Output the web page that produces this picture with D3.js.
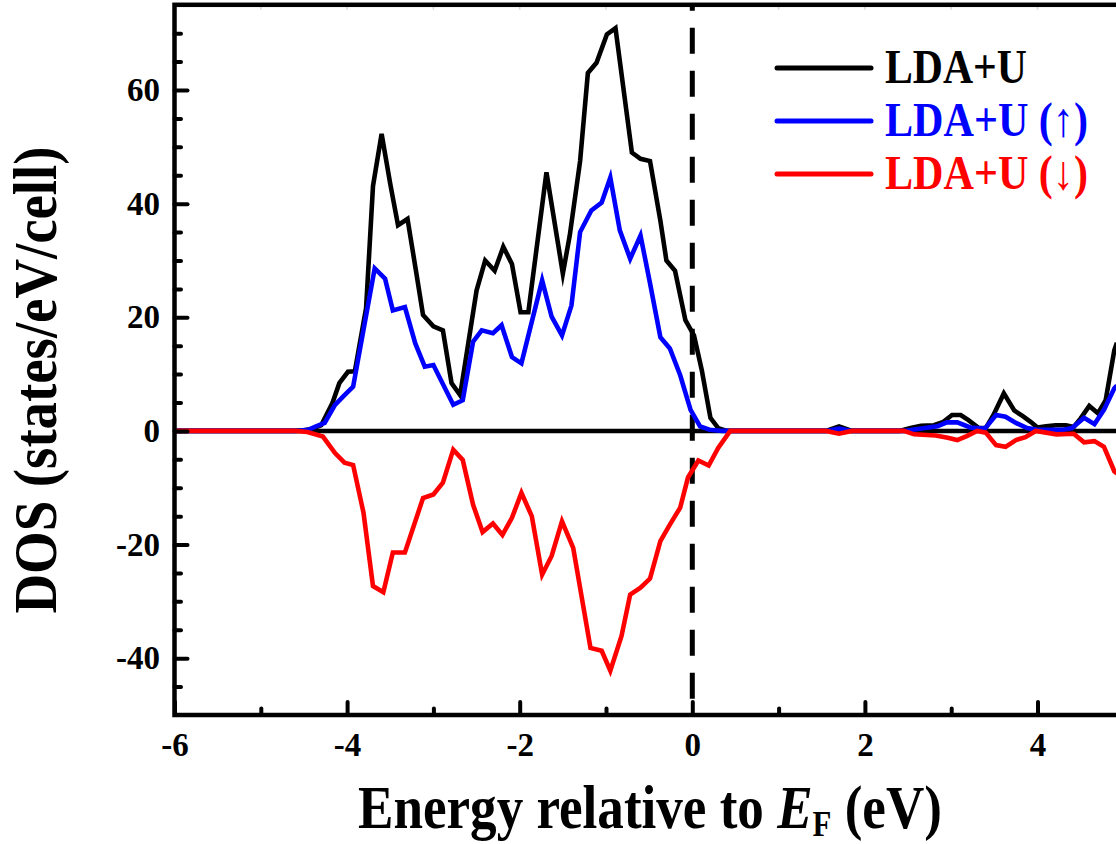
<!DOCTYPE html>
<html><head><meta charset="utf-8">
<script src="https://cdn.jsdelivr.net/npm/d3@7"></script>
<style>body{margin:0;background:#fff} svg{display:block}</style>
</head><body>
<svg id="c" width="1116" height="844"></svg>
<script>
// ---- data ----
const energyTotal = [-6.0,-4.6,-4.5,-4.4,-4.3,-4.17,-4.09,-3.99,-3.91,-3.78,-3.70,-3.60,-3.50,-3.41,-3.30,-3.20,-3.12,-3.00,-2.89,-2.79,-2.69,-2.50,-2.40,-2.29,-2.19,-2.09,-1.99,-1.90,-1.69,-1.50,-1.42,-1.30,-1.21,-1.11,-0.99,-0.89,-0.70,-0.60,-0.49,-0.37,-0.30,-0.20,-0.08,0.02,0.11,0.21,0.30,0.40,1.55,1.70,1.85,2.40,2.53,2.65,2.80,2.91,3.01,3.11,3.20,3.32,3.40,3.49,3.61,3.73,3.83,3.92,4.00,4.10,4.21,4.33,4.42,4.50,4.60,4.70,4.79,4.89,4.92];
const dosTotal    = [0,0,0.1,0.4,1.0,4.9,8.4,10.4,10.5,21.6,43.1,52.3,43.5,36.2,37.3,28.0,20.4,18.4,17.7,8.4,6.3,24.7,30.0,28.2,32.4,29.4,20.9,20.9,45.5,27.7,34.4,47.5,63.0,64.8,69.8,70.9,49.0,47.9,47.5,37.0,30.0,28.2,19.5,16.8,10.7,2.3,0.5,0,0,0.8,0,0,0.5,0.9,1.0,1.6,2.8,2.8,1.9,0.5,0.5,2.8,6.6,3.6,2.6,1.6,0.6,0.8,1.0,1.0,0.7,2.2,4.4,3.1,5.4,14.2,15.5];

const energyUp = [-6.0,-4.6,-4.45,-4.36,-4.26,-4.14,-4.05,-3.93,-3.68,-3.56,-3.47,-3.33,-3.21,-3.10,-3.00,-2.77,-2.66,-2.54,-2.44,-2.31,-2.21,-2.09,-1.98,-1.74,-1.63,-1.51,-1.40,-1.30,-1.17,-1.05,-0.95,-0.84,-0.72,-0.60,-0.49,-0.37,-0.26,-0.14,-0.02,0.09,0.20,0.35,1.55,1.70,1.85,2.45,2.55,2.84,2.95,3.07,3.22,3.39,3.52,3.63,3.75,3.88,4.00,4.30,4.40,4.54,4.66,4.77,4.89,4.92];
const dosUp    = [0,0,0.2,0.8,1.4,4.6,6.0,7.8,28.6,26.8,21.2,21.8,15.4,11.3,11.6,4.6,5.4,15.7,17.7,17.2,18.6,13.0,11.9,26.5,20.1,16.8,22.1,35.0,38.8,40.2,44.6,35.3,30.3,34.4,26.0,16.5,14.5,9.8,3.7,0.8,0.2,0,0,0.4,0,0,0.2,0.8,1.5,1.5,0.6,0.4,2.8,2.5,1.4,0.5,0.2,0.2,0.5,2.3,1.2,3.7,7.5,8.0];

const energyDown = [-6.0,-4.6,-4.46,-4.28,-4.14,-4.03,-3.93,-3.81,-3.70,-3.58,-3.47,-3.33,-3.12,-3.00,-2.89,-2.77,-2.66,-2.54,-2.43,-2.31,-2.20,-2.09,-1.98,-1.86,-1.74,-1.63,-1.51,-1.38,-1.18,-1.05,-0.95,-0.82,-0.72,-0.60,-0.49,-0.37,-0.26,-0.14,-0.05,0.07,0.19,0.30,0.44,1.55,1.70,1.85,2.45,2.57,2.82,2.96,3.07,3.18,3.30,3.40,3.52,3.63,3.75,3.86,3.98,4.10,4.22,4.42,4.54,4.66,4.77,4.89,4.92];
const dosDown    = [0,0,-0.2,-1.0,-3.9,-5.6,-6.0,-14.4,-27.3,-28.4,-21.4,-21.4,-11.8,-11.2,-9.1,-3.3,-5.1,-13.0,-17.8,-16.3,-18.3,-15.3,-10.9,-15.0,-25.3,-22.0,-15.9,-20.6,-38.2,-38.7,-42.2,-36.1,-28.8,-27.6,-26.0,-19.4,-16.5,-13.5,-8.2,-5.2,-6.1,-3.0,0,0,-0.5,0,0,-0.6,-0.8,-1.2,-1.6,-0.9,0,-0.3,-2.5,-2.8,-1.6,-1.1,0,-0.3,-0.6,-0.5,-2.0,-1.8,-2.8,-7.1,-7.5];

const xMajorTicks = [-6,-4,-2,0,2,4];
const xMinorTicks = [-5,-3,-1,1,3];
const yMajorTicks = [-40,-20,0,20,40,60];
const yMinorTicks = [-45,-35,-30,-25,-15,-10,-5,5,10,15,25,30,35,45,50,55,65,70];
const topFaintTicks = [-5,-4,-3,-2,-1,1,2,3,4];
const legendLabels = ["LDA+U","LDA+U (\u2191)","LDA+U (\u2193)"];
const seriesColors = ["#000000","#0000ff","#ff0000"];
const xTitle = "Energy relative to ";
const yTitle = "DOS (states/eV/cell)";

// ---- drawing ----
const FONT = "'Liberation Serif','Times New Roman',Times,serif";
const svg = d3.select("#c");
const x = d3.scaleLinear().domain([-6,6]).range([174.5, 174.5 + 12*86.3]);
const y = d3.scaleLinear().domain([-50,75]).range([715, 4.8]);

svg.append("defs").append("clipPath").attr("id","plot")
  .append("rect").attr("x",x(-6)).attr("y",y(75)).attr("width",x(6)-x(-6)).attr("height",y(-50)-y(75));

// faint top ticks
svg.append("g").selectAll("line").data(topFaintTicks).join("line")
  .attr("x1",d=>x(d)).attr("x2",d=>x(d)).attr("y1",y(75)+2).attr("y2",y(75)+5)
  .attr("stroke","#d8d8d8").attr("stroke-width",1.5);

const plot = svg.append("g").attr("clip-path","url(#plot)");

// zero line
plot.append("line").attr("x1",x(-6)).attr("x2",x(6)).attr("y1",y(0)).attr("y2",y(0))
  .attr("stroke","#000").attr("stroke-width",4.5);

// Fermi level dashed line
plot.append("line").attr("x1",x(0)).attr("x2",x(0)).attr("y1",y(75)).attr("y2",y(-50))
  .attr("stroke","#000").attr("stroke-width",5).attr("stroke-dasharray","26,17").attr("stroke-dashoffset",20);

const line = d3.line().x(d=>x(d[0])).y(d=>y(d[1]));
const series = [
  d3.zip(energyTotal,dosTotal),
  d3.zip(energyUp,dosUp),
  d3.zip(energyDown,dosDown)
];
series.forEach((s,i)=>{
  plot.append("path").datum(s).attr("d",line).attr("fill","none")
    .attr("stroke",seriesColors[i]).attr("stroke-width",4.6).attr("stroke-linejoin","miter").attr("stroke-miterlimit",6);
});

// frame
svg.append("rect").attr("x",x(-6)).attr("y",y(75)).attr("width",x(6)-x(-6)).attr("height",y(-50)-y(75))
  .attr("fill","none").attr("stroke","#000").attr("stroke-width",4.5);

function styleAxis(g){
  g.select(".domain").remove();
  g.selectAll(".tick line").attr("stroke","#000").attr("stroke-width",4).attr("stroke-linecap","round");
}
const TICKFS = 33;

// bottom axis
const gxMinor = svg.append("g").attr("transform",`translate(0,${y(-50)})`)
  .call(d3.axisBottom(x).tickValues(xMinorTicks).tickSize(-6.5).tickSizeOuter(0).tickFormat(""));
styleAxis(gxMinor);
const gx = svg.append("g").attr("transform",`translate(0,${y(-50)})`)
  .call(d3.axisBottom(x).tickValues(xMajorTicks).tickSize(-13).tickSizeOuter(0).tickPadding(18).tickFormat(d=>String(d)));
styleAxis(gx);
gx.selectAll(".tick text").attr("font-family",FONT).attr("font-weight","bold").attr("font-size",TICKFS)
  .attr("fill","#000");

// left axis
const gyMinor = svg.append("g").attr("transform",`translate(${x(-6)},0)`)
  .call(d3.axisLeft(y).tickValues(yMinorTicks).tickSize(-6.5).tickSizeOuter(0).tickFormat(""));
styleAxis(gyMinor);
const gy = svg.append("g").attr("transform",`translate(${x(-6)},0)`)
  .call(d3.axisLeft(y).tickValues(yMajorTicks).tickSize(-13).tickSizeOuter(0).tickPadding(14.5).tickFormat(d=>String(d)));
styleAxis(gy);
gy.selectAll(".tick text").attr("font-family",FONT).attr("font-weight","bold").attr("font-size",TICKFS)
  .attr("fill","#000");

// axis titles
const xt = svg.append("text").attr("font-family",FONT).attr("font-weight","bold").attr("font-size",62)
  .attr("text-anchor","middle").attr("fill","#000");
xt.append("tspan").text(xTitle);
xt.append("tspan").attr("font-style","italic").text("E");
xt.append("tspan").attr("font-size",36).attr("dy",8).text("F");
xt.append("tspan").attr("dy",-8).text(" (eV)");
{
  const w = xt.node().getComputedTextLength();
  xt.attr("transform",`translate(650,828) scale(${584/w},1)`);
}
const yt = svg.append("text").attr("font-family",FONT).attr("font-weight","bold").attr("font-size",62)
  .attr("text-anchor","middle").attr("fill","#000").text(yTitle);
{
  const w = yt.node().getComputedTextLength();
  yt.attr("transform",`translate(56,380) rotate(-90) scale(${467/w},1)`);
}

// legend
const legendY = [68,121,174];
const legendW = [142,203,203];
legendLabels.forEach((lab,i)=>{
  svg.append("line").attr("x1",777).attr("x2",871).attr("y1",legendY[i]).attr("y2",legendY[i])
    .attr("stroke",seriesColors[i]).attr("stroke-width",5).attr("stroke-linecap","round");
  const t = svg.append("text").attr("font-family",FONT).attr("font-weight","bold").attr("font-size",48)
    .attr("fill",seriesColors[i]).attr("x",0).attr("y",0).text(lab);
  const w = t.node().getComputedTextLength();
  t.attr("transform",`translate(885,${legendY[i]+15}) scale(${legendW[i]/w},1)`);
});
</script>
</body></html>
